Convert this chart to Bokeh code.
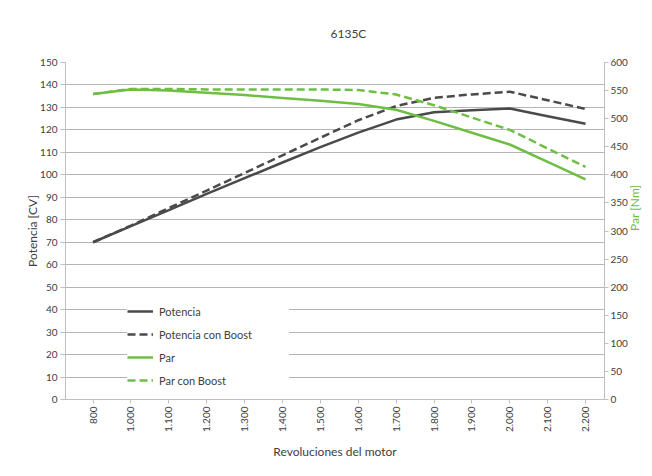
from math import pi
from bokeh.plotting import figure
from bokeh.models import Range1d, LinearAxis, FixedTicker, SingleIntervalTicker
from bokeh.embed import file_html
from bokeh.resources import INLINE

# ---- data ----
rpm_labels = ["800", "1.000", "1.100", "1.200", "1.300", "1.400", "1.500",
              "1.600", "1.700", "1.800", "1.900", "2.000", "2.100", "2.200"]
potencia = [70, 77.2, 84.3, 91.5, 98.5, 105.5, 112.3, 118.8, 124.6, 127.9, 128.7, 129.5, 126.1, 122.7]
potencia_boost = [70, 77.4, 85.2, 93.0, 100.8, 108.7, 116.5, 124.3, 130.6, 134.3, 135.8, 137.0, 133.2, 129.3]
par = [544, 552, 550, 546, 542, 537, 532, 526, 516, 496, 475, 454, 423, 392]
par_boost = [544, 553, 553, 552, 552, 552, 552, 551, 543, 524, 502, 480, 447, 414]
left_ticks_interval = 10
right_ticks_interval = 50

x_idx = list(range(len(rpm_labels)))

DARK = "#4a4a4a"
GREEN = "#6fbe44"
TXT = "#404040"
GRID = "#b4b4b4"
AXIS = "#bfbfbf"
FONT = "Lato"

p = figure(width=652, height=476, output_backend="svg", toolbar_location=None,
           x_range=Range1d(-0.727, 13.5), y_range=Range1d(0, 150),
           min_border_left=65, min_border_right=43, min_border_top=62, min_border_bottom=77,
           title="6135C")
p.outline_line_color = None
p.background_fill_color = "white"
p.border_fill_color = "white"

p.title.text_font = FONT
p.title.text_font_size = "12px"
p.title.text_font_style = "normal"
p.title.text_color = TXT
p.title.align = "left"
p.title.offset = 265
p.title.standoff = 43

p.extra_y_ranges = {"par": Range1d(0, 600)}

# x axis
xa = p.xaxis[0]
xa.ticker = FixedTicker(ticks=x_idx)
xa.major_label_overrides = {i: lab for i, lab in enumerate(rpm_labels)}
xa.major_label_orientation = pi / 2
xa.axis_label = "Revoluciones del motor"
p.xgrid.visible = False

# left axis
ya = p.yaxis[0]
ya.ticker = SingleIntervalTicker(interval=left_ticks_interval)
ya.axis_label = "Potencia [CV]"
p.ygrid.grid_line_color = GRID
p.ygrid.grid_line_width = 1

# right axis
ra = LinearAxis(y_range_name="par", ticker=SingleIntervalTicker(interval=right_ticks_interval),
                axis_label="Par [Nm]")
p.add_layout(ra, "right")

for ax in (xa, ya, ra):
    ax.axis_line_color = AXIS
    ax.major_tick_line_color = AXIS
    ax.minor_tick_line_color = None
    ax.major_tick_in = 0
    ax.major_tick_out = 5
    ax.major_label_text_font = FONT
    ax.major_label_text_font_size = "10px"
    ax.major_label_text_color = TXT
    ax.major_label_standoff = 3
    ax.axis_label_text_font = FONT
    ax.axis_label_text_font_size = "12px"
    ax.axis_label_text_font_style = "normal"
    ax.axis_label_text_color = TXT
    ax.axis_label_standoff = 3

xa.major_tick_out = 4
xa.axis_label_standoff = 9
ya.axis_label_standoff = -3
ra.major_tick_out = 4
ra.major_label_standoff = 2
ra.axis_label_standoff = 4
ra.axis_label_text_color = GREEN
if "axis_label_orientation" in ra.properties():
    ra.axis_label_orientation = pi / 2

# lines
p.line(x_idx, potencia, color=DARK, line_width=2.5, legend_label="Potencia")
p.line(x_idx, potencia_boost, color=DARK, line_width=2.5, line_dash="8 4", legend_label="Potencia con Boost")
p.line(x_idx, par, color=GREEN, line_width=2.5, y_range_name="par", legend_label="Par")
p.line(x_idx, par_boost, color=GREEN, line_width=2.5, line_dash="8 4", y_range_name="par", legend_label="Par con Boost")

lg = p.legend[0]
lg.location = (62, 9)
lg.background_fill_color = "white"
lg.background_fill_alpha = 1
lg.border_line_color = None
lg.glyph_width = 26
lg.glyph_height = 20
lg.label_height = 20
lg.spacing = 3
lg.padding = 8
lg.margin = 0
lg.label_standoff = 6
lg.label_text_font = FONT
lg.label_text_font_size = "11px"
lg.label_text_color = TXT
lg.label_width = 130

open("out.html", "w").write(file_html(p, INLINE))
